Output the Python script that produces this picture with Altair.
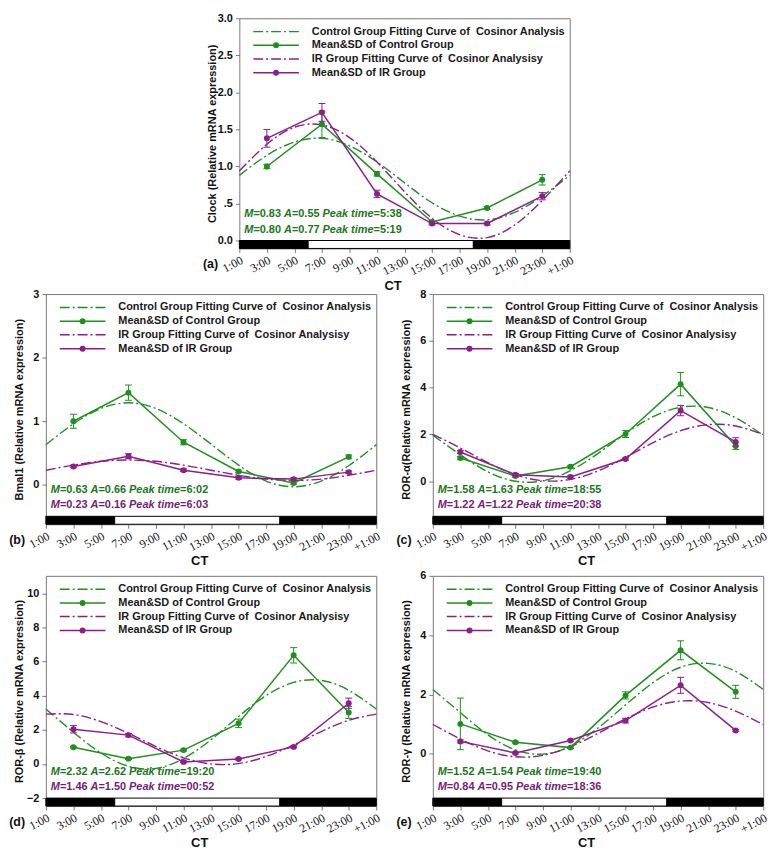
import altair as alt
import pandas as pd

# ---------------- data ----------------
hours = [3, 7, 11, 15, 19, 23]
fit_hours = [1, 3, 5, 7, 9, 11, 13, 15, 17, 19, 21, 23, 25]
tick_hours = [1, 3, 5, 7, 9, 11, 13, 15, 17, 19, 21, 23, 25]

light_start = [1, 6, 18]
light_end = [6, 18, 25]
light_fill = ["black", "white", "black"]

legend_labels = [
    "Control Group Fitting Curve of\u00a0 Cosinor Analysis",
    "Mean&SD of Control Group",
    "IR Group Fitting Curve of\u00a0 Cosinor Analysisy",
    "Mean&SD of IR Group",
]

# (a) Clock
clock_ctrl_mean = [1.00, 1.57, 0.90, 0.25, 0.44, 0.82]
clock_ctrl_sd = [0.03, 0.18, 0.03, 0.02, 0.02, 0.07]
clock_ir_mean = [1.38, 1.73, 0.63, 0.23, 0.23, 0.60]
clock_ir_sd = [0.12, 0.12, 0.05, 0.02, 0.02, 0.05]
clock_ctrl_fit = [0.88, 1.15, 1.33, 1.38, 1.28, 1.06, 0.78, 0.51, 0.33, 0.28, 0.38, 0.60, 0.88]
clock_ir_fit = [0.94, 1.30, 1.53, 1.56, 1.39, 1.06, 0.66, 0.30, 0.08, 0.04, 0.21, 0.54, 0.94]

# (b) Bmal1
bmal_ctrl_mean = [1.00, 1.45, 0.67, 0.21, 0.03, 0.44]
bmal_ctrl_sd = [0.11, 0.12, 0.04, 0.02, 0.02, 0.03]
bmal_ir_mean = [0.29, 0.45, 0.23, 0.11, 0.09, 0.20]
bmal_ir_sd = [0.02, 0.04, 0.02, 0.02, 0.02, 0.02]
bmal_ctrl_fit = [0.63, 0.96, 1.20, 1.29, 1.20, 0.96, 0.64, 0.31, 0.06, -0.03, 0.06, 0.30, 0.63]
bmal_ir_fit = [0.23, 0.31, 0.37, 0.39, 0.37, 0.31, 0.23, 0.15, 0.09, 0.07, 0.09, 0.15, 0.23]

# (c) ROR-alpha
rora_ctrl_mean = [0.99, 0.22, 0.62, 2.02, 4.15, 1.51]
rora_ctrl_sd = [0.07, 0.05, 0.05, 0.15, 0.50, 0.15]
rora_ir_mean = [1.25, 0.28, 0.18, 0.95, 3.02, 1.68]
rora_ir_sd = [0.07, 0.05, 0.05, 0.05, 0.22, 0.18]
rora_ctrl_fit = [1.97, 1.13, 0.40, 0.00, 0.02, 0.45, 1.19, 2.04, 2.76, 3.16, 3.15, 2.71, 1.97]
rora_ir_fit = [2.00, 1.42, 0.79, 0.28, 0.02, 0.08, 0.44, 1.02, 1.65, 2.16, 2.42, 2.36, 2.00]

# (d) ROR-beta
rorb_ctrl_mean = [0.98, 0.31, 0.81, 2.38, 6.37, 3.02]
rorb_ctrl_sd = [0.05, 0.05, 0.05, 0.25, 0.45, 0.35]
rorb_ir_mean = [2.04, 1.69, 0.12, 0.29, 1.00, 3.56]
rorb_ir_sd = [0.22, 0.10, 0.05, 0.05, 0.05, 0.30]
rorb_ctrl_fit = [3.22, 1.86, 0.64, -0.14, -0.26, 0.32, 1.42, 2.78, 4.01, 4.78, 4.90, 4.32, 3.22]
rorb_ir_fit = [2.92, 2.90, 2.48, 1.80, 1.02, 0.36, 0.00, 0.02, 0.44, 1.12, 1.90, 2.56, 2.92]

# (e) ROR-gamma
rorg_ctrl_mean = [1.01, 0.39, 0.21, 1.97, 3.49, 2.09]
rorg_ctrl_sd = [0.87, 0.03, 0.03, 0.12, 0.32, 0.22]
rorg_ir_mean = [0.42, 0.03, 0.45, 1.12, 2.31, 0.79]
rorg_ir_sd = [0.05, 0.03, 0.03, 0.08, 0.27, 0.03]
rorg_ctrl_fit = [2.17, 1.39, 0.64, 0.13, -0.01, 0.26, 0.87, 1.65, 2.40, 2.92, 3.05, 2.78, 2.17]
rorg_ir_fit = [0.99, 0.50, 0.10, -0.10, -0.05, 0.24, 0.69, 1.18, 1.58, 1.78, 1.73, 1.44, 0.99]

# cosinor parameters (M, A, peak time)
clock_params = [("0.83", "0.55", "5:38"), ("0.80", "0.77", "5:19")]
bmal_params = [("0.63", "0.66", "6:02"), ("0.23", "0.16", "6:03")]
rora_params = [("1.58", "1.63", "18:55"), ("1.22", "1.22", "20:38")]
rorb_params = [("2.32", "2.62", "19:20"), ("1.46", "1.50", "00:52")]
rorg_params = [("1.52", "1.54", "19:40"), ("0.84", "0.95", "18:36")]

# ---------------- style ----------------
FONT = "Liberation Sans"
SERIF = "Liberation Serif"
GREEN = "#1f8f1f"
PURPLE = "#8a1f8a"
GREEN_T = "#1d761d"
PURPLE_T = "#761d76"
FRAME = "#777777"
W, H = 333, 232
BAR_PX = 8
DASH = [10, 3, 2, 3]
ANN_SIZE = 11

ARIAL_BOLD = {"0": 556, "1": 556, "2": 556, "3": 556, "4": 556, "5": 556, "6": 556,
              "7": 556, "8": 556, "9": 556, ".": 278, ":": 333, "=": 584, " ": 278,
              "M": 833, "A": 722, "P": 667, "e": 556, "a": 556, "k": 556, "t": 333,
              "i": 278, "m": 889}


def text_width(s, size):
    return sum(ARIAL_BOLD.get(c, 556) for c in s) * size / 1000.0


one = pd.DataFrame({"k": [0]})


def txt(s, x, y, size, color, italic=False, align="left", font=FONT):
    return alt.Chart(one).mark_text(
        text=s, align=align, baseline="middle", font=font, fontSize=size,
        fontWeight="bold", fontStyle="italic" if italic else "normal", color=color
    ).encode(x=alt.value(x), y=alt.value(y))


def ann_layers(vals, y, color):
    m, a, p = vals
    pieces = [("M", True), ("=" + m + " ", False), ("A", True), ("=" + a + " ", False),
              ("Peak time", True), ("=" + p, False)]
    x = 5.0
    out = []
    for s, it in pieces:
        out.append(txt(s.strip(), x, y, ANN_SIZE, color, italic=it))
        x += text_width(s, ANN_SIZE)
    return out


def legend_layers():
    rows_y = [13.5, 27.3, 41.0, 55.0]
    cols = [GREEN, GREEN, PURPLE, PURPLE]
    out = []
    for i, (lab, col, ry) in enumerate(zip(legend_labels, cols, rows_y)):
        if i % 2 == 0:
            out.append(alt.Chart(one).mark_rule(color=col, strokeWidth=1.4, strokeDash=DASH)
                       .encode(x=alt.value(14), x2=alt.value(60), y=alt.value(ry)))
        else:
            out.append(alt.Chart(one).mark_rule(color=col, strokeWidth=1.5)
                       .encode(x=alt.value(14), x2=alt.value(60), y=alt.value(ry)))
            out.append(alt.Chart(one).mark_point(filled=True, size=36, opacity=1, color=col)
                       .encode(x=alt.value(37), y=alt.value(ry)))
        out.append(txt(lab, 73, ry, 11, "#1a1a1a"))
    return out


def panel(letter, ytitle, ydomain, yticks, ylabel_expr, ctrl_mean, ctrl_sd, ir_mean, ir_sd,
          ctrl_fit, ir_fit, params, second_color):
    xs = alt.Scale(domain=[1, 25], nice=False, zero=False)
    ys = alt.Scale(domain=ydomain, nice=False, zero=False)
    xaxis = alt.Axis(values=tick_hours,
                     labelExpr="datum.value == 25 ? '+1:00' : datum.value + ':00'",
                     labelAngle=-28, labelFont=SERIF, labelFontSize=12, labelColor="#111111",
                     labelOverlap=False, labelBound=False, labelFlush=False,
                     tickSize=4, tickColor=FRAME, domain=False, grid=False, labelPadding=2,
                     title="CT", titleFont=FONT, titleFontSize=13, titleFontWeight="bold",
                     titleColor="#111111", titleX=W / 2 - 12, titleY=37,
                     titleBaseline="middle", titleAlign="center")
    yaxis = alt.Axis(values=yticks, labelExpr=ylabel_expr, labelFont=FONT, labelFontSize=11,
                     labelFontWeight="bold", labelColor="#111111", tickSize=4, tickColor=FRAME,
                     labelOverlap=False, labelFlush=False,
                     domain=False, grid=False, labelPadding=3,
                     title=ytitle, titleFont=FONT, titleFontSize=11, titleFontWeight="bold",
                     titleColor="#111111", titleX=-27, titleY=H / 2, titleAngle=-90,
                     titleAlign="center", titleBaseline="middle")

    bars = pd.DataFrame({"s": light_start, "e": light_end, "f": light_fill})
    bar = alt.Chart(bars).mark_rect(stroke="black", strokeWidth=1).encode(
        x=alt.X("s:Q", scale=xs, axis=xaxis), x2="e:Q",
        y=alt.value(H - BAR_PX), y2=alt.value(H),
        fill=alt.Fill("f:N", scale=None))

    layers = [bar]
    for fit, col in [(ctrl_fit, GREEN), (ir_fit, PURPLE)]:
        df = pd.DataFrame({"h": fit_hours, "v": fit})
        layers.append(alt.Chart(df).mark_line(color=col, strokeWidth=1.4, strokeDash=DASH,
                                              interpolate="natural").encode(
            x=alt.X("h:Q", scale=xs, axis=xaxis), y=alt.Y("v:Q", scale=ys, axis=yaxis)))

    for mean, sd, col in [(ctrl_mean, ctrl_sd, GREEN), (ir_mean, ir_sd, PURPLE)]:
        df = pd.DataFrame({"h": hours, "m": mean, "sd": sd})
        base = alt.Chart(df).transform_calculate(lo="datum.m - datum.sd", hi="datum.m + datum.sd")
        layers.append(base.mark_line(color=col, strokeWidth=1.5).encode(
            x=alt.X("h:Q", scale=xs, axis=xaxis), y=alt.Y("m:Q", scale=ys, axis=yaxis)))
        layers.append(base.mark_rule(color=col, strokeWidth=1).encode(
            x=alt.X("h:Q", scale=xs, axis=xaxis), y=alt.Y("lo:Q", scale=ys, axis=yaxis), y2="hi:Q"))
        for fld in ["lo", "hi"]:
            layers.append(base.mark_tick(color=col, orient="horizontal", size=7, thickness=1,
                                         opacity=1).encode(
                x=alt.X("h:Q", scale=xs, axis=xaxis), y=alt.Y(fld + ":Q", scale=ys, axis=yaxis)))
        layers.append(base.mark_point(filled=True, size=36, opacity=1, color=col).encode(
            x=alt.X("h:Q", scale=xs, axis=xaxis), y=alt.Y("m:Q", scale=ys, axis=yaxis)))

    layers += legend_layers()
    layers += ann_layers(params[0], H - BAR_PX - 26.5, GREEN_T)
    layers += ann_layers(params[1], H - BAR_PX - 11, second_color)
    layers.append(txt("(" + letter + ")", -29, H + 16, 12.5, "#111111", align="center"))

    return alt.layer(*layers).properties(width=W, height=H)


int_expr = "format(datum.value, 'd')"
pa = panel("a", "Clock (Relative mRNA expression)", [-0.106, 3.0],
           [0, 0.5, 1.0, 1.5, 2.0, 2.5, 3.0],
           "datum.value == 0.5 ? '.5' : format(datum.value, '.1f')",
           clock_ctrl_mean, clock_ctrl_sd, clock_ir_mean, clock_ir_sd,
           clock_ctrl_fit, clock_ir_fit, clock_params, GREEN_T)
pb = panel("b", "Bmal1 (Relative mRNA expression)", [-0.62, 3.0], [0, 1, 2, 3], int_expr,
           bmal_ctrl_mean, bmal_ctrl_sd, bmal_ir_mean, bmal_ir_sd,
           bmal_ctrl_fit, bmal_ir_fit, bmal_params, PURPLE_T)
pc = panel("c", "ROR-\u03b1(Relative mRNA expression)", [-1.84, 8.0], [0, 2, 4, 6, 8], int_expr,
           rora_ctrl_mean, rora_ctrl_sd, rora_ir_mean, rora_ir_sd,
           rora_ctrl_fit, rora_ir_fit, rora_params, PURPLE_T)
pd_ = panel("d", "ROR-\u03b2 (Relative mRNA expression)", [-2.47, 11.03],
            [-2, 0, 2, 4, 6, 8, 10], int_expr,
            rorb_ctrl_mean, rorb_ctrl_sd, rorb_ir_mean, rorb_ir_sd,
            rorb_ctrl_fit, rorb_ir_fit, rorb_params, PURPLE_T)
pe = panel("e", "ROR-\u03b3 (Relative mRNA expression)", [-1.76, 6.0], [0, 2, 4, 6], int_expr,
           rorg_ctrl_mean, rorg_ctrl_sd, rorg_ir_mean, rorg_ir_sd,
           rorg_ctrl_fit, rorg_ir_fit, rorg_params, PURPLE_T)

row2 = alt.hconcat(pb, pc, spacing=13)
row3 = alt.hconcat(pd_, pe, spacing=13)
lower = alt.vconcat(row2, row3, spacing=0)
chart = alt.vconcat(pa, lower, spacing=-6, center=True).properties(
    padding=0
).configure_view(stroke=FRAME, strokeWidth=1)

chart.save("out.html", embed_options={"renderer": "svg", "actions": False})
